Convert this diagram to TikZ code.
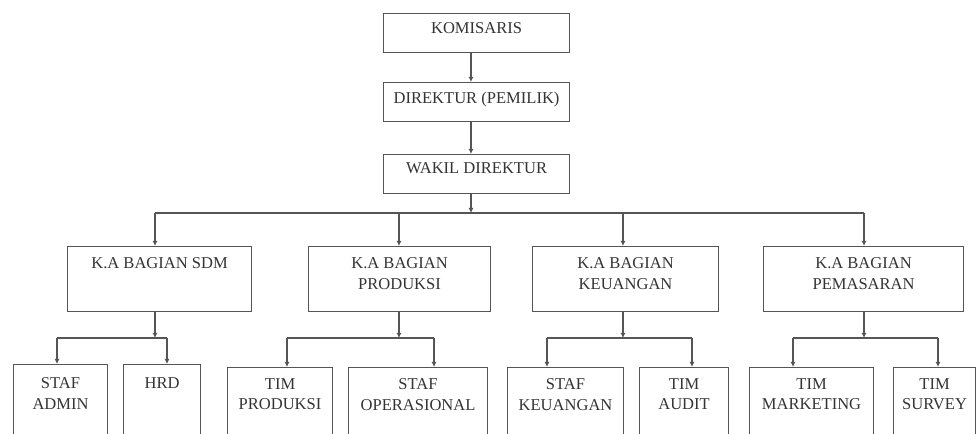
\documentclass[tikz,border=0pt]{standalone}
\usepackage{fontspec}
\setmainfont{Liberation Serif}
\usetikzlibrary{arrows.meta}
\definecolor{linec}{HTML}{555555}
\definecolor{textc}{HTML}{333333}
\tikzset{
  box/.style={draw=linec, line width=1.1bp, rectangle, inner sep=0pt, anchor=north west},
  lbl/.style={font=\fontsize{16.6}{21}\selectfont, text=textc, align=center, inner sep=0pt, anchor=north},
  arr/.style={draw=linec, line width=1.1bp, -{Latex[length=5bp,width=5bp]}},
  ln/.style={draw=linec, line width=1.1bp}
}
\newcommand\orgbox[7]{\node[box,minimum width=#4bp,minimum height=#5bp,label={[lbl,yshift=-#7bp]north:{#6}}] (#1) at (#2,#3) {};}
\begin{document}
\begin{tikzpicture}[x=1bp,y=-1bp]
\clip (0,0) rectangle (977,434);
% top chain
\orgbox{kom}{383}{13}{186}{39}{KOMISARIS}{9.5}
\orgbox{dir}{383}{82}{186}{39}{DIREKTUR (PEMILIK)}{10}
\orgbox{wak}{383}{154}{186}{39}{WAKIL DIREKTUR}{8}
% second level
\orgbox{sdm}{67}{246}{184}{65}{K.A BAGIAN SDM}{11}
\orgbox{prd}{308}{246}{182}{65}{K.A BAGIAN\\PRODUKSI}{11}
\orgbox{keu}{532}{246}{186}{65}{K.A BAGIAN\\KEUANGAN}{11}
\orgbox{pem}{763}{246}{200}{65}{K.A BAGIAN\\PEMASARAN}{11}
% third level
\orgbox{sa}{13}{364}{94}{90}{STAF\\ADMIN}{13}
\orgbox{hrd}{123}{364}{77}{90}{HRD}{13}
\orgbox{tp}{227}{367}{105}{90}{TIM\\PRODUKSI}{11}
\orgbox{so}{348}{367}{139}{90}{STAF\\OPERASIONAL}{11}
\orgbox{sk}{507}{367}{116}{90}{STAF\\KEUANGAN}{11}
\orgbox{ta}{639}{367}{89}{90}{TIM\\AUDIT}{11}
\orgbox{tm}{749}{367}{124}{90}{TIM\\MARKETING}{11}
\orgbox{ts}{893}{367}{82}{90}{TIM\\SURVEY}{11}
% junction coordinates
\coordinate (t) at (471,213);
\coordinate (b1) at (155,213);
\coordinate (b2) at (399,213);
\coordinate (b3) at (623,213);
\coordinate (b4) at (864,213);
\coordinate (jS) at (155,338);
\coordinate (jS1) at (57,338);
\coordinate (jS2) at (167,338);
\coordinate (jP) at (399,338);
\coordinate (jP1) at (287,338);
\coordinate (jP2) at (434,338);
\coordinate (jK) at (623,338);
\coordinate (jK1) at (547,338);
\coordinate (jK2) at (692,338);
\coordinate (jM) at (864,338);
\coordinate (jM1) at (793,338);
\coordinate (jM2) at (938,338);
% top connectors
\draw[arr] (kom.south -| t) -- (dir.north -| t);
\draw[arr] (dir.south -| t) -- (wak.north -| t);
\draw[arr] (wak.south -| t) -- (t);
\draw[ln] (b1) -- (b4);
\draw[arr] (b1) -- (sdm.north -| b1);
\draw[arr] (b2) -- (prd.north -| b2);
\draw[arr] (b3) -- (keu.north -| b3);
\draw[arr] (b4) -- (pem.north -| b4);
% SDM
\draw[arr] (sdm.south -| jS) -- (jS);
\draw[ln] (jS1) -- (jS2);
\draw[arr] (jS1) -- (sa.north -| jS1);
\draw[arr] (jS2) -- (hrd.north -| jS2);
% PRODUKSI
\draw[arr] (prd.south -| jP) -- (jP);
\draw[ln] (jP1) -- (jP2);
\draw[arr] (jP1) -- (tp.north -| jP1);
\draw[arr] (jP2) -- (so.north -| jP2);
% KEUANGAN
\draw[arr] (keu.south -| jK) -- (jK);
\draw[ln] (jK1) -- (jK2);
\draw[arr] (jK1) -- (sk.north -| jK1);
\draw[arr] (jK2) -- (ta.north -| jK2);
% PEMASARAN
\draw[arr] (pem.south -| jM) -- (jM);
\draw[ln] (jM1) -- (jM2);
\draw[arr] (jM1) -- (tm.north -| jM1);
\draw[arr] (jM2) -- (ts.north -| jM2);
\end{tikzpicture}
\end{document}
